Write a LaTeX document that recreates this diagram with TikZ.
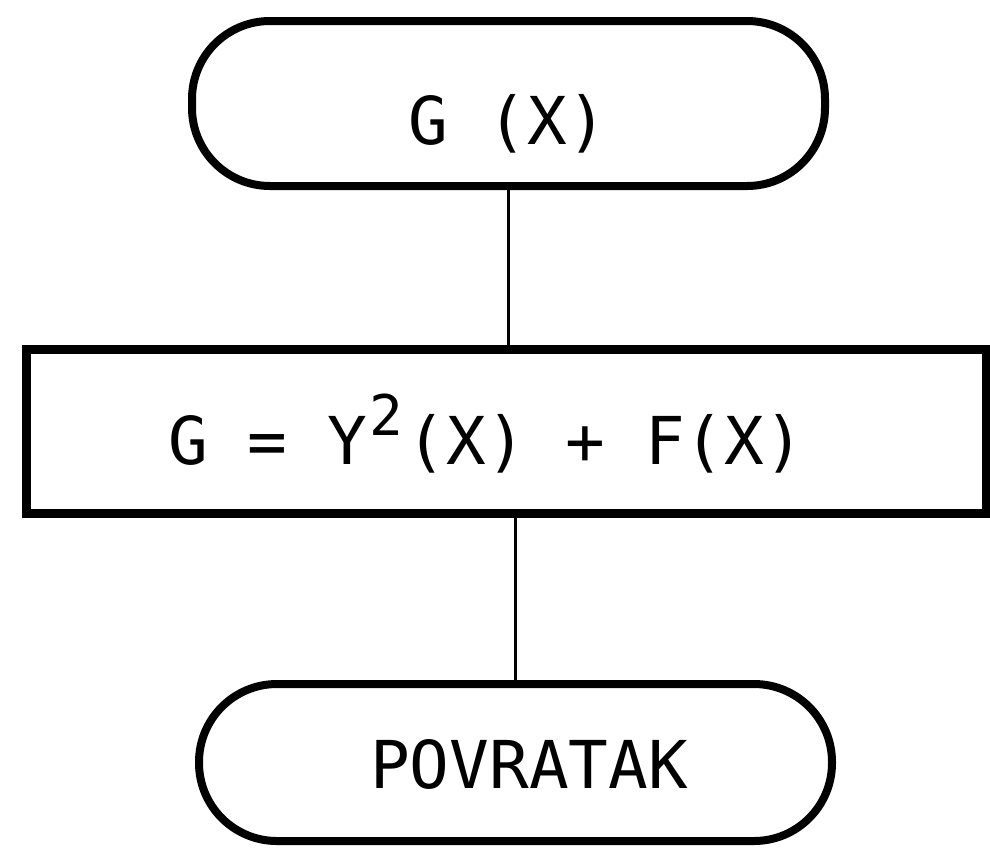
\documentclass[tikz,border=0pt]{standalone}
\usepackage{fontspec}
\newfontfamily\monofont{DejaVu Sans Mono}
\begin{document}
\begin{tikzpicture}[x=1pt,y=-1pt,
  terminal/.style={draw=black,line width=8pt,rectangle,rounded corners=78pt,inner sep=0pt},
  procbox/.style={draw=black,line width=9pt,rectangle,inner sep=0pt},
  label text/.style={inner sep=0pt,anchor=base west,font=\monofont\fontsize{66}{70}\selectfont},
  link/.style={draw=black,line width=3pt}]
\useasboundingbox (0,0) rectangle (990,847);
\fill[white] (0,0) rectangle (990,847);
% shapes
\node[terminal,minimum width=633pt,minimum height=165pt] (top) at (508.5,103.5) {};
\node[procbox,minimum width=960pt,minimum height=164pt] (mid) at (506,431) {};
\node[terminal,minimum width=633pt,minimum height=157pt] (bot) at (515.5,762.5) {};
% texts
\node[label text] (ttop) at (408,144) {G (X)};
\node[label text] (tmid) at (168,464) {G = Y\makebox[0.602em]{\raisebox{29pt}{\fontsize{56}{56}\selectfont 2}}(X) + F(X)};
\node[label text] (tbot) at (370,788) {POVRATAK};
% connectors
\draw[link] (top.south) -- (top.south |- mid.north);
\draw[link] (bot.north |- mid.south) -- (bot.north);
\end{tikzpicture}
\end{document}
